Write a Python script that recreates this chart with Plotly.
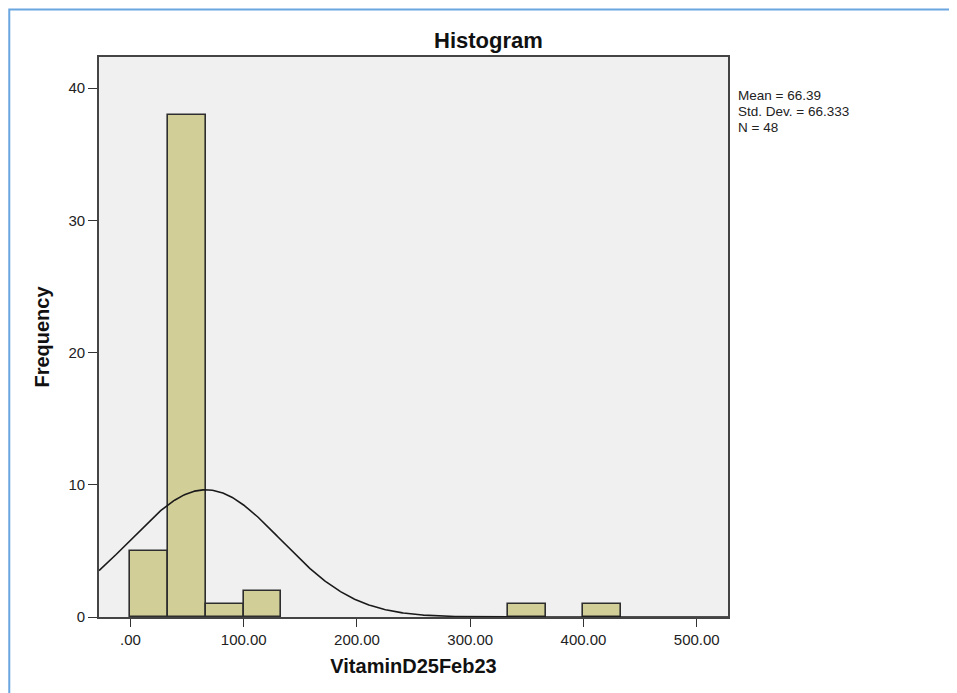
import numpy as np
import plotly.graph_objects as go

# ---- data ----
bin_starts = [0.0, 33.333, 66.667, 100.0, 333.333, 400.0]
bin_width = 33.333
counts = [5, 38, 1, 2, 1, 1]
mean_val = 66.39
std_val = 66.333
n_val = 48
x_tick_vals = [0, 100, 200, 300, 400, 500]
x_tick_text = [".00", "100.00", "200.00", "300.00", "400.00", "500.00"]
y_tick_vals = [0, 10, 20, 30, 40]
stats_lines = ["Mean = 66.39", "Std. Dev. = 66.333", "N = 48"]

x_range = [-27.8, 527.6]
y_range = [0, 42.35]

centers = [s + bin_width / 2 for s in bin_starts]

# normal curve fitted from the displayed statistics
xc = np.linspace(x_range[0], x_range[1], 600)
yc = n_val * bin_width / (std_val * np.sqrt(2 * np.pi)) * np.exp(-0.5 * ((xc - mean_val) / std_val) ** 2)

fig = go.Figure()
fig.add_trace(go.Bar(
    x=centers, y=counts, width=bin_width,
    marker=dict(color="#d2ce97", line=dict(color="#2e2e2e", width=1.6)),
    hoverinfo="x+y",
))
fig.add_trace(go.Scatter(
    x=xc, y=yc, mode="lines",
    line=dict(color="#1a1a1a", width=1.6), hoverinfo="skip",
))

OFF = 8  # page body margin
W, H = 957 - OFF, 693 - OFF
# target positions in window pixels
plot_left, plot_right, plot_top, plot_bottom = 98.5, 728, 57, 617
L = plot_left - OFF
R = W - (plot_right - OFF)
T = plot_top - OFF
B = H - (plot_bottom - OFF)
pw = W - L - R
ph = H - T - B

def px_x(p):
    return (p - OFF - L) / pw

def px_y(p):
    return (H - B - (p - OFF)) / ph

fig.update_layout(
    width=W, height=H, autosize=False,
    margin=dict(l=L, r=R, t=T, b=B, pad=0),
    paper_bgcolor="white", plot_bgcolor="#f0f0f0",
    showlegend=False, bargap=0,
    font=dict(family="Liberation Sans, Arial, sans-serif", color="#222222"),
)
fig.update_xaxes(
    range=x_range, tickvals=x_tick_vals, ticktext=x_tick_text,
    ticks="outside", ticklen=8, tickwidth=1.3, tickcolor="#333333",
    tickfont=dict(size=15, color="#222222"),
    showline=True, linecolor="#444444", linewidth=1.6, mirror=True,
    showgrid=False, zeroline=False,
    title=dict(text="<b>VitaminD25Feb23</b>", font=dict(size=20, color="#111111"), standoff=12),
)
fig.update_yaxes(
    range=y_range, tickvals=y_tick_vals,
    ticks="outside", ticklen=9, tickwidth=1.3, tickcolor="#333333",
    tickfont=dict(size=15, color="#222222"),
    showline=True, linecolor="#444444", linewidth=1.6, mirror=True,
    showgrid=False, zeroline=False,
    title=dict(text="<b>Frequency</b>", font=dict(size=20, color="#111111"), standoff=14),
)

annotations = [
    dict(text="<b>Histogram</b>", x=px_x(488), y=px_y(40), xref="paper", yref="paper",
         xanchor="center", yanchor="middle", showarrow=False,
         font=dict(size=22, color="#111111")),
]
for i, line in enumerate(stats_lines):
    annotations.append(dict(
        text=line, x=px_x(736), y=px_y(96 + 15.5 * i), xref="paper", yref="paper",
        xanchor="left", yanchor="middle", showarrow=False,
        font=dict(size=13.5, color="#222222"),
    ))
fig.update_layout(annotations=annotations)

# blue outer frame of the output viewer
fig.add_shape(type="rect", xref="paper", yref="paper",
              x0=px_x(8.7), y0=px_y(720), x1=px_x(990), y1=px_y(9.5),
              line=dict(color="#6aa6e0", width=2), fillcolor="rgba(0,0,0,0)", layer="below")

fig.write_html("out.html")
